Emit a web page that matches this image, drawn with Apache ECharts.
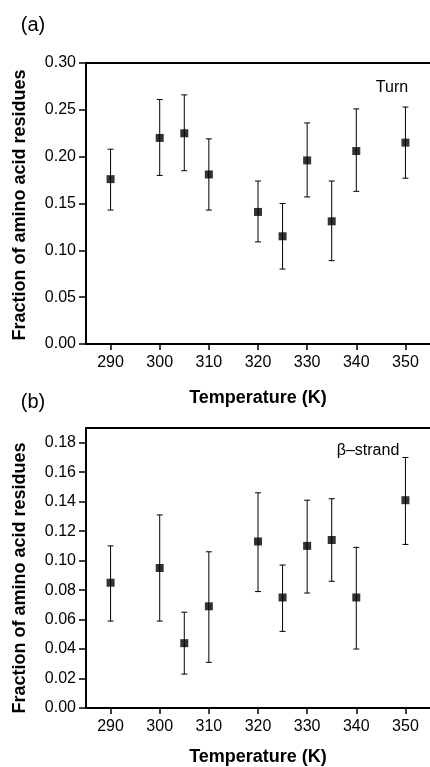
<!DOCTYPE html>
<html>
<head>
<meta charset="utf-8">
<script src="https://cdn.jsdelivr.net/npm/echarts@6/dist/echarts.min.js"></script>
<style>
  html, body { margin: 0; padding: 0; background: #fff; }
  #chart { width: 430px; height: 767px; }
</style>
</head>
<body>
<div id="chart"></div>
<script>
// temperatures (K)
const temps = [290, 300, 305, 310, 320, 325, 330, 335, 340, 350];

// panel (a): turn
const turnMean = [0.176, 0.220, 0.225, 0.181, 0.141, 0.115, 0.196, 0.131, 0.206, 0.215];
const turnLow  = [0.143, 0.180, 0.185, 0.143, 0.109, 0.080, 0.157, 0.089, 0.163, 0.177];
const turnHigh = [0.208, 0.261, 0.266, 0.219, 0.174, 0.150, 0.236, 0.174, 0.251, 0.253];

// panel (b): beta-strand
const strandMean = [0.085, 0.095, 0.044, 0.069, 0.113, 0.075, 0.110, 0.114, 0.075, 0.141];
const strandLow  = [0.059, 0.059, 0.023, 0.031, 0.079, 0.052, 0.078, 0.086, 0.040, 0.111];
const strandHigh = [0.110, 0.131, 0.065, 0.106, 0.146, 0.097, 0.141, 0.142, 0.109, 0.170];

const xTicks = [290, 300, 310, 320, 330, 340, 350];
const turnTicks = [0, 0.05, 0.10, 0.15, 0.20, 0.25, 0.30];
const strandTicks = [0, 0.02, 0.04, 0.06, 0.08, 0.10, 0.12, 0.14, 0.16, 0.18];

const FONT = '"Liberation Sans", Arial, sans-serif';
const black = '#000';

const chart = echarts.init(document.getElementById('chart'));

function bottomAxis(gridIndex, gap) {
  return {
    type: 'value', gridIndex, min: 285, max: 355, position: 'bottom',
    name: 'Temperature (K)', nameLocation: 'middle', nameGap: gap,
    nameTextStyle: { fontFamily: FONT, fontSize: 18, fontWeight: 'bold', color: black },
    axisLine: { show: true, lineStyle: { color: black, width: 2 } },
    axisTick: { show: true, length: 6, lineStyle: { color: black, width: 1.5 }, customValues: xTicks },
    axisLabel: { fontFamily: FONT, fontSize: 16, color: black, margin: 11, customValues: xTicks },
    splitLine: { show: false },
  };
}

function topBorder(gridIndex) {
  return {
    type: 'value', gridIndex, min: 285, max: 355, position: 'top',
    axisLine: { show: true, lineStyle: { color: black, width: 2 } },
    axisTick: { show: false }, axisLabel: { show: false }, splitLine: { show: false },
  };
}

function leftAxis(gridIndex, max, ticks) {
  return {
    type: 'value', gridIndex, min: 0, max,
    axisLine: { show: true, lineStyle: { color: black, width: 2 } },
    axisTick: { show: true, length: 7, lineStyle: { color: black, width: 1.5 }, customValues: ticks },
    axisLabel: {
      fontFamily: FONT, fontSize: 16, color: black, margin: 10, customValues: ticks,
      formatter: (v) => v.toFixed(2),
    },
    splitLine: { show: false },
  };
}

function errorBars(xAxisIndex, yAxisIndex, low, high) {
  return {
    type: 'custom', xAxisIndex, yAxisIndex, z: 1,
    data: temps.map((t, i) => [t, low[i], high[i]]),
    renderItem: (params, api) => {
      const lo = api.coord([api.value(0), api.value(1)]);
      const hi = api.coord([api.value(0), api.value(2)]);
      const w = 3;
      const style = { stroke: black, lineWidth: 1 };
      return {
        type: 'group',
        children: [
          { type: 'line', shape: { x1: lo[0], y1: lo[1], x2: hi[0], y2: hi[1] }, style },
          { type: 'line', shape: { x1: lo[0] - w, y1: lo[1], x2: lo[0] + w, y2: lo[1] }, style },
          { type: 'line', shape: { x1: hi[0] - w, y1: hi[1], x2: hi[0] + w, y2: hi[1] }, style },
        ],
      };
    },
  };
}

function points(xAxisIndex, yAxisIndex, mean) {
  return {
    type: 'scatter', xAxisIndex, yAxisIndex, z: 3,
    symbol: 'rect', symbolSize: 8,
    itemStyle: { color: black },
    data: temps.map((t, i) => [t, mean[i]]),
  };
}

function yTitle(x, y) {
  return {
    type: 'text', x, y, rotation: Math.PI / 2,
    style: {
      text: 'Fraction of amino acid residues', fill: black,
      font: 'bold 18px ' + FONT, textAlign: 'center', textVerticalAlign: 'middle',
    },
  };
}

function label(x, y, text, font) {
  return {
    type: 'text', x, y,
    style: { text, fill: black, font, textAlign: 'center', textVerticalAlign: 'middle' },
  };
}

chart.setOption({
  animation: false,
  grid: [
    { left: 86, top: 63, width: 346, height: 281 },
    { left: 86, top: 428, width: 346, height: 281 },
  ],
  xAxis: [bottomAxis(0, 45), topBorder(0), bottomAxis(1, 40), topBorder(1)],
  yAxis: [leftAxis(0, 0.30, turnTicks), leftAxis(1, 0.19, strandTicks)],
  series: [
    errorBars(0, 0, turnLow, turnHigh),
    points(0, 0, turnMean),
    errorBars(2, 1, strandLow, strandHigh),
    points(2, 1, strandMean),
  ],
  graphic: [
    yTitle(20, 205),
    yTitle(20, 578),
    label(33, 25, '(a)', '20px ' + FONT),
    label(33, 402, '(b)', '20px ' + FONT),
    label(392, 88, 'Turn', '16px ' + FONT),
    label(368, 451, 'β–strand', '16px ' + FONT),
  ],
});
</script>
</body>
</html>
